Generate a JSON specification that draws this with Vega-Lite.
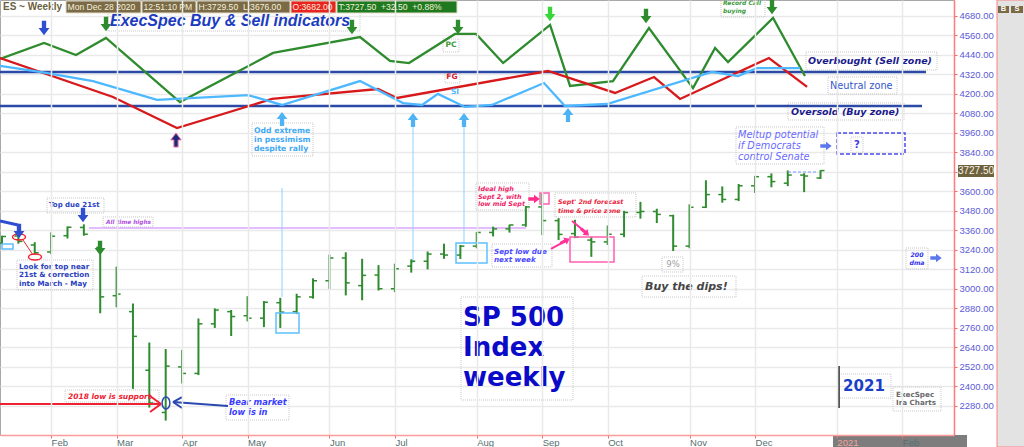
{
  "$schema": "https://vega.github.io/schema/vega-lite/v6.json",
  "width": 954,
  "height": 435,
  "autosize": "none",
  "padding": {"left": 0, "top": 0, "right": 70, "bottom": 12},
  "background": "white",
  "config": {"view": {"stroke": "#a8a8a8", "strokeWidth": 1}, "text": {"font": "DejaVu Sans"}},
  "datasets": {
    "bars": [
      {"wk": 0, "date": "2020-01-17", "open": 3280, "high": 3327, "low": 3275, "close": 3322},
      {"wk": 1, "date": "2020-01-24", "open": 3325, "high": 3337, "low": 3278, "close": 3292},
      {"wk": 2, "date": "2020-01-31", "open": 3270, "high": 3287, "low": 3212, "close": 3222},
      {"wk": 3, "date": "2020-02-07", "open": 3227, "high": 3347, "low": 3214, "close": 3324},
      {"wk": 4, "date": "2020-02-14", "open": 3327, "high": 3384, "low": 3310, "close": 3379},
      {"wk": 5, "date": "2020-02-21", "open": 3378, "high": 3397, "low": 3327, "close": 3336},
      {"wk": 6, "date": "2020-02-28", "open": 3255, "high": 3262, "low": 2850, "close": 2951},
      {"wk": 7, "date": "2020-03-06", "open": 2958, "high": 3137, "low": 2887, "close": 2968},
      {"wk": 8, "date": "2020-03-13", "open": 2860, "high": 2910, "low": 2385, "close": 2708},
      {"wk": 9, "date": "2020-03-20", "open": 2500, "high": 2670, "low": 2270, "close": 2298},
      {"wk": 10, "date": "2020-03-27", "open": 2240, "high": 2630, "low": 2190, "close": 2525},
      {"wk": 11, "date": "2020-04-03", "open": 2520, "high": 2625, "low": 2418, "close": 2480},
      {"wk": 12, "date": "2020-04-09", "open": 2480, "high": 2818, "low": 2470, "close": 2785},
      {"wk": 13, "date": "2020-04-17", "open": 2785, "high": 2880, "low": 2760, "close": 2870},
      {"wk": 14, "date": "2020-04-24", "open": 2860, "high": 2870, "low": 2710, "close": 2830},
      {"wk": 15, "date": "2020-05-01", "open": 2835, "high": 2955, "low": 2800, "close": 2820},
      {"wk": 16, "date": "2020-05-08", "open": 2820, "high": 2925, "low": 2765, "close": 2918},
      {"wk": 17, "date": "2020-05-15", "open": 2915, "high": 2945, "low": 2760, "close": 2857},
      {"wk": 18, "date": "2020-05-22", "open": 2860, "high": 2970, "low": 2845, "close": 2951},
      {"wk": 19, "date": "2020-05-29", "open": 2950, "high": 3065, "low": 2940, "close": 3050},
      {"wk": 20, "date": "2020-06-05", "open": 3050, "high": 3211, "low": 3000, "close": 3190},
      {"wk": 21, "date": "2020-06-12", "open": 3190, "high": 3225, "low": 2960, "close": 3037},
      {"wk": 22, "date": "2020-06-19", "open": 3020, "high": 3185, "low": 2930, "close": 3083},
      {"wk": 23, "date": "2020-06-26", "open": 3085, "high": 3146, "low": 2990, "close": 3001},
      {"wk": 24, "date": "2020-07-02", "open": 3001, "high": 3155, "low": 2980, "close": 3124},
      {"wk": 25, "date": "2020-07-10", "open": 3140, "high": 3182, "low": 3100, "close": 3170},
      {"wk": 26, "date": "2020-07-17", "open": 3170, "high": 3230, "low": 3120, "close": 3214},
      {"wk": 27, "date": "2020-07-24", "open": 3214, "high": 3278, "low": 3185, "close": 3208},
      {"wk": 28, "date": "2020-07-31", "open": 3208, "high": 3270, "low": 3184, "close": 3263},
      {"wk": 29, "date": "2020-08-07", "open": 3263, "high": 3350, "low": 3250, "close": 3347},
      {"wk": 30, "date": "2020-08-14", "open": 3347, "high": 3383, "low": 3323, "close": 3369},
      {"wk": 31, "date": "2020-08-21", "open": 3369, "high": 3395, "low": 3346, "close": 3393},
      {"wk": 32, "date": "2020-08-28", "open": 3393, "high": 3509, "low": 3382, "close": 3504},
      {"wk": 33, "date": "2020-09-04", "open": 3504, "high": 3588, "low": 3331, "close": 3420},
      {"wk": 34, "date": "2020-09-11", "open": 3420, "high": 3435, "low": 3300, "close": 3335},
      {"wk": 35, "date": "2020-09-18", "open": 3340, "high": 3425, "low": 3312, "close": 3318},
      {"wk": 36, "date": "2020-09-25", "open": 3300, "high": 3320, "low": 3197, "close": 3289},
      {"wk": 37, "date": "2020-10-02", "open": 3289, "high": 3390, "low": 3270, "close": 3336},
      {"wk": 38, "date": "2020-10-09", "open": 3336, "high": 3480, "low": 3318, "close": 3470},
      {"wk": 39, "date": "2020-10-16", "open": 3470, "high": 3535, "low": 3432, "close": 3476},
      {"wk": 40, "date": "2020-10-23", "open": 3476, "high": 3493, "low": 3405, "close": 3458},
      {"wk": 41, "date": "2020-10-30", "open": 3450, "high": 3456, "low": 3233, "close": 3263},
      {"wk": 42, "date": "2020-11-06", "open": 3263, "high": 3520, "low": 3250, "close": 3502},
      {"wk": 43, "date": "2020-11-13", "open": 3502, "high": 3668, "low": 3497, "close": 3580},
      {"wk": 44, "date": "2020-11-20", "open": 3580, "high": 3630, "low": 3530, "close": 3550},
      {"wk": 45, "date": "2020-11-27", "open": 3550, "high": 3645, "low": 3540, "close": 3634},
      {"wk": 46, "date": "2020-12-04", "open": 3634, "high": 3695, "low": 3590, "close": 3690},
      {"wk": 47, "date": "2020-12-11", "open": 3690, "high": 3710, "low": 3625, "close": 3660},
      {"wk": 48, "date": "2020-12-18", "open": 3650, "high": 3728, "low": 3632, "close": 3700},
      {"wk": 49, "date": "2020-12-24", "open": 3700, "high": 3711, "low": 3595, "close": 3694},
      {"wk": 50, "date": "2020-12-31", "open": 3682, "high": 3729.5, "low": 3676, "close": 3727.5}
    ],
    "ind": [
      {"ind": "PC", "wk": -0.12, "price": 4414}, {"ind": "PC", "wk": 2.57, "price": 4512}, {"ind": "PC", "wk": 4.52, "price": 4438},
      {"ind": "PC", "wk": 6.35, "price": 4543}, {"ind": "PC", "wk": 10.87, "price": 4149}, {"ind": "PC", "wk": 16.56, "price": 4451},
      {"ind": "PC", "wk": 21.87, "price": 4549}, {"ind": "PC", "wk": 23.7, "price": 4402}, {"ind": "PC", "wk": 24.86, "price": 4389},
      {"ind": "PC", "wk": 27.67, "price": 4568}, {"ind": "PC", "wk": 28.96, "price": 4568}, {"ind": "PC", "wk": 30.61, "price": 4389},
      {"ind": "PC", "wk": 33.48, "price": 4623}, {"ind": "PC", "wk": 34.7, "price": 4248}, {"ind": "PC", "wk": 37.32, "price": 4278},
      {"ind": "PC", "wk": 39.52, "price": 4604}, {"ind": "PC", "wk": 42.21, "price": 4235}, {"ind": "PC", "wk": 43.56, "price": 4481},
      {"ind": "PC", "wk": 44.35, "price": 4395}, {"ind": "PC", "wk": 47.1, "price": 4666}, {"ind": "PC", "wk": 49.05, "price": 4309},
      {"ind": "FG", "wk": -0.12, "price": 4420}, {"ind": "FG", "wk": 6.78, "price": 4180}, {"ind": "FG", "wk": 10.69, "price": 3989},
      {"ind": "FG", "wk": 16.49, "price": 4168}, {"ind": "FG", "wk": 22.97, "price": 4229}, {"ind": "FG", "wk": 24.13, "price": 4174},
      {"ind": "FG", "wk": 33.35, "price": 4340}, {"ind": "FG", "wk": 37.45, "price": 4205}, {"ind": "FG", "wk": 39.83, "price": 4303},
      {"ind": "FG", "wk": 41.42, "price": 4168}, {"ind": "FG", "wk": 46.85, "price": 4420}, {"ind": "FG", "wk": 49.18, "price": 4242},
      {"ind": "SI", "wk": -0.12, "price": 4371}, {"ind": "SI", "wk": 2.32, "price": 4334}, {"ind": "SI", "wk": 5.56, "price": 4278},
      {"ind": "SI", "wk": 9.47, "price": 4162}, {"ind": "SI", "wk": 15.03, "price": 4192}, {"ind": "SI", "wk": 17.1, "price": 4131},
      {"ind": "SI", "wk": 21.87, "price": 4278}, {"ind": "SI", "wk": 24.5, "price": 4143}, {"ind": "SI", "wk": 25.66, "price": 4131},
      {"ind": "SI", "wk": 26.63, "price": 4199}, {"ind": "SI", "wk": 28.28, "price": 4119}, {"ind": "SI", "wk": 29.93, "price": 4131},
      {"ind": "SI", "wk": 33.11, "price": 4266}, {"ind": "SI", "wk": 34.39, "price": 4125}, {"ind": "SI", "wk": 36.96, "price": 4137},
      {"ind": "SI", "wk": 43.37, "price": 4334}, {"ind": "SI", "wk": 44.96, "price": 4309}, {"ind": "SI", "wk": 46.12, "price": 4358},
      {"ind": "SI", "wk": 48.75, "price": 4358}
    ],
    "hdr": [
      {"seg": "date", "wk": 3.91, "wk2": 8.491, "price": 4770.5, "price2": 4696.7, "t": "Mon Dec 28 2020"},
      {"seg": "time", "wk": 8.552, "wk2": 11.851, "price": 4770.5, "price2": 4696.7, "t": "12:51:10 PM"},
      {"seg": "hl", "wk": 11.912, "wk2": 17.593, "price": 4770.5, "price2": 4696.7, "t": "H:3729.50\u00a0\u00a0L:3676.00"},
      {"seg": "open", "wk": 17.654, "wk2": 20.403, "price": 4770.5, "price2": 4696.7, "t": "O:3682.00"},
      {"seg": "last", "wk": 20.464, "wk2": 27.795, "price": 4770.5, "price2": 4696.7, "t": "T:3727.50\u00a0\u00a0+32.50\u00a0\u00a0+0.88%"}
    ],
    "noteBoxes": [
      {"wk": 6.475, "wk2": 21.869, "price": 4708.9, "price2": 4586.0},
      {"wk": 26.939, "wk2": 27.917, "price": 4536.8, "price2": 4456.8},
      {"wk": 27.062, "wk2": 27.978, "price": 4333.8, "price2": 4266.2},
      {"wk": 15.272, "wk2": 18.998, "price": 4020.1, "price2": 3817.2},
      {"wk": 2.749, "wk2": 6.231, "price": 3558.9, "price2": 3466.7},
      {"wk": 6.17, "wk2": 9.224, "price": 3442.1, "price2": 3380.6},
      {"wk": 0.916, "wk2": 5.559, "price": 3177.6, "price2": 2993.1},
      {"wk": 3.848, "wk2": 9.591, "price": 2378.1, "price2": 2304.3},
      {"wk": 13.683, "wk2": 17.532, "price": 2347.4, "price2": 2193.6},
      {"wk": 29.933, "wk2": 33.598, "price": 3276.0, "price2": 3134.6},
      {"wk": 28.955, "wk2": 32.193, "price": 3651.2, "price2": 3485.1},
      {"wk": 33.781, "wk2": 38.729, "price": 3589.6, "price2": 3442.1},
      {"wk": 40.317, "wk2": 41.6, "price": 3196.0, "price2": 3103.8},
      {"wk": 39.096, "wk2": 44.838, "price": 3079.2, "price2": 2950.0},
      {"wk": 28.039, "wk2": 34.881, "price": 2950.0, "price2": 2316.6},
      {"wk": 51.13, "wk2": 54.306, "price": 2476.5, "price2": 2328.9},
      {"wk": 54.428, "wk2": 57.361, "price": 2396.6, "price2": 2249.0},
      {"wk": 55.223, "wk2": 56.566, "price": 3251.4, "price2": 3122.3},
      {"wk": 49.114, "wk2": 57.116, "price": 4456.8, "price2": 4346.1},
      {"wk": 50.458, "wk2": 54.673, "price": 4303.1, "price2": 4198.5},
      {"wk": 48.014, "wk2": 55.101, "price": 4143.2, "price2": 4038.6},
      {"wk": 44.838, "wk2": 50.213, "price": 3995.6, "price2": 3768.0},
      {"wk": 51.863, "wk2": 52.596, "price": 3934.1, "price2": 3835.6},
      {"wk": 43.922, "wk2": 46.609, "price": 4776.6, "price2": 4672.1}
    ]
  },
  "encoding": {
    "x": {
      "field": "wk", "type": "quantitative",
      "scale": {"domain": [-0.122, 58.155], "nice": false, "zero": false},
      "axis": {
        "title": null,
        "values": [3, 7, 11, 15, 20, 24, 29, 33, 37, 42, 46, 51, 55],
        "labelExpr": "{'3':'Feb','7':'Mar','11':'Apr','15':'May','20':'Jun','24':'Jul','29':'Aug','33':'Sep','37':'Oct','42':'Nov','46':'Dec','51':'2021','55':'Feb'}[datum.value]",
        "labelAlign": "left", "labelPadding": -1, "labelFont": "Liberation Sans", "labelFontSize": 9.5,
        "labelColor": {"condition": {"test": "datum.value == 51", "value": "#f4a49a"}, "value": "#557070"},
        "labelFlush": false, "labelOverlap": false,
        "tickColor": "#ff6666", "tickSize": 3,
        "domainColor": "#ff9a9a", "domainWidth": 1.5,
        "gridColor": "#e9e9e9", "gridWidth": 1.5,
        "zindex": 1
      }
    },
    "y": {
      "field": "price", "type": "quantitative",
      "scale": {"domain": [2101.4, 4776.6], "nice": false, "zero": false},
      "axis": {
        "title": null, "orient": "right",
        "values": [2280, 2400, 2520, 2640, 2760, 2880, 3000, 3120, 3240, 3360, 3480, 3600, 3720, 3840, 3960, 4080, 4200, 4320, 4440, 4560, 4680],
        "format": ".2f", "labelFont": "Liberation Sans", "labelFontSize": 9.5, "labelColor": "#5b5bd6",
        "labelPadding": 2, "labelFlush": false,
        "tickColor": "#ff6666", "tickSize": 3,
        "domainColor": "#ff7a7a", "domainWidth": 1.5,
        "gridColor": "#e9e9e9", "gridWidth": 1.5
      }
    }
  },
  "layer": [
    {
      "data": {"name": "noteBoxes"},
      "mark": {"type": "rect", "fillOpacity": 0, "stroke": "#c8c8c8", "strokeWidth": 1, "strokeDash": [1, 1]},
      "encoding": {"x2": {"field": "wk2"}, "y2": {"field": "price2"}}
    },
    {
      "data": {"values": [
        {"wk": -0.122, "wk2": 56.444, "price": 4333.8},
        {"wk": -0.122, "wk2": 56.2, "price": 4124.7}
      ]},
      "mark": {"type": "rule", "color": "#2b4aa8", "strokeWidth": 2.5},
      "encoding": {"x2": {"field": "wk2"}}
    },
    {
      "data": {"name": "ind"},
      "mark": {"type": "line", "strokeWidth": 2.3},
      "encoding": {
        "color": {"field": "ind", "type": "nominal", "scale": {"domain": ["PC", "FG", "SI"], "range": ["#2e8b2e", "#d7191c", "#4db8ff"]}, "legend": null}
      }
    },
    {
      "data": {"values": [{"wk": 5.315, "wk2": 32.01, "price": 3374.4}]},
      "mark": {"type": "rule", "color": "#c77dff", "strokeWidth": 1},
      "encoding": {"x2": {"field": "wk2"}}
    },
    {
      "data": {"values": [
        {"wk": 17.104, "price": 3620.4, "price2": 2950.0},
        {"wk": 25.107, "price": 3995.6, "price2": 3159.2},
        {"wk": 28.222, "price": 4001.7, "price2": 3282.2}
      ]},
      "mark": {"type": "rule", "color": "#8fd0ff", "strokeWidth": 1},
      "encoding": {"y2": {"field": "price2"}}
    },
    {
      "data": {"name": "bars"},
      "mark": {"type": "rule", "color": "#2e8b2e", "strokeWidth": 2},
      "encoding": {"y": {"field": "low", "type": "quantitative", "title": null}, "y2": {"field": "high"}}
    },
    {
      "data": {"name": "bars"},
      "mark": {"type": "tick", "orient": "horizontal", "color": "#2e8b2e", "size": 4, "thickness": 1.5, "xOffset": -2, "opacity": 1},
      "encoding": {"y": {"field": "open", "type": "quantitative", "title": null}}
    },
    {
      "data": {"name": "bars"},
      "mark": {"type": "tick", "orient": "horizontal", "color": "#2e8b2e", "size": 4, "thickness": 1.5, "xOffset": 2, "opacity": 1},
      "encoding": {"y": {"field": "close", "type": "quantitative", "title": null}}
    },
    {
      "data": {"values": [
        {"wk": -0.122, "price": 2292.0, "wk2": 9.652, "price2": 2292.0},
        {"wk": 9.041, "price": 2341.2, "wk2": 9.713, "price2": 2292.0},
        {"wk": 9.041, "price": 2242.8, "wk2": 9.713, "price2": 2292.0}
      ]},
      "mark": {"type": "rule", "color": "#ee2233", "strokeWidth": 2},
      "encoding": {"x2": {"field": "wk2"}, "y2": {"field": "price2"}}
    },
    {
      "data": {"values": [{"wk": 1.283, "price": 3300.6, "wk2": 1.894, "price2": 3208.4}]},
      "mark": {"type": "rule", "color": "#ee2233", "strokeWidth": 1},
      "encoding": {"x2": {"field": "wk2"}, "y2": {"field": "price2"}}
    },
    {
      "data": {"values": [
        {"wk": 13.806, "price": 2279.7, "wk2": 10.446, "price2": 2304.3},
        {"wk": 10.996, "price": 2335.0, "wk2": 10.446, "price2": 2304.3},
        {"wk": 10.996, "price": 2267.4, "wk2": 10.446, "price2": 2304.3}
      ]},
      "mark": {"type": "rule", "color": "#2a48b0", "strokeWidth": 2},
      "encoding": {"x2": {"field": "wk2"}, "y2": {"field": "price2"}}
    },
    {
      "data": {"values": [{"wk": -0.122, "price": 3417.5, "wk2": 0.977, "price2": 3392.9}]},
      "mark": {"type": "rule", "color": "#2f4fd0", "strokeWidth": 3},
      "encoding": {"x2": {"field": "wk2"}, "y2": {"field": "price2"}}
    },
    {
      "data": {"values": [
        {"wk": 34.82, "price": 3417.5, "wk2": 35.492, "price2": 3362.1},
        {"wk": 33.537, "price": 3245.3, "wk2": 34.209, "price2": 3282.2}
      ]},
      "mark": {"type": "rule", "color": "#ff3399", "strokeWidth": 2},
      "encoding": {"x2": {"field": "wk2"}, "y2": {"field": "price2"}}
    },
    {
      "data": {"values": [{"wk": 48.014, "wk2": 49.786, "price": 3718.8}]},
      "mark": {"type": "rule", "color": "#7799ff", "strokeWidth": 1, "strokeDash": [3, 2]},
      "encoding": {"x2": {"field": "wk2"}}
    },
    {
      "data": {"values": [{"wk": 51.13, "price": 2525.7, "price2": 2267.4}]},
      "mark": {"type": "rule", "color": "#555555", "strokeWidth": 2},
      "encoding": {"y2": {"field": "price2"}}
    },
    {
      "data": {"values": [
        {"wk": 16.738, "wk2": 18.143, "price": 2851.6, "price2": 2728.7},
        {"wk": 27.734, "wk2": 29.627, "price": 3282.2, "price2": 3159.2},
        {"wk": 0.0, "wk2": 0.672, "price": 3276.0, "price2": 3245.3}
      ]},
      "mark": {"type": "rect", "fillOpacity": 0, "stroke": "#5cc0ff", "strokeWidth": 1.5},
      "encoding": {"x2": {"field": "wk2"}, "y2": {"field": "price2"}}
    },
    {
      "data": {"values": [
        {"wk": 32.865, "wk2": 33.415, "price": 3589.6, "price2": 3522.0},
        {"wk": 34.697, "wk2": 37.385, "price": 3319.1, "price2": 3165.3}
      ]},
      "mark": {"type": "rect", "fillOpacity": 0, "stroke": "#ff5fae", "strokeWidth": 1.5},
      "encoding": {"x2": {"field": "wk2"}, "y2": {"field": "price2"}}
    },
    {
      "data": {"values": [{"wk": 51.008, "wk2": 55.162, "price": 3958.6, "price2": 3829.5}]},
      "mark": {"type": "rect", "fillOpacity": 0, "stroke": "#4a4aee", "strokeWidth": 1.5, "strokeDash": [4, 2]},
      "encoding": {"x2": {"field": "wk2"}, "y2": {"field": "price2"}}
    },
    {
      "data": {"values": [{"wk": 1.038, "price": 3319.1}, {"wk": 2.016, "price": 3196.0}]},
      "mark": {"type": "point", "shape": "M-1,0A1,0.45,0,1,1,1,0A1,0.45,0,1,1,-1,0Z", "size": 169, "filled": false, "color": "#ee2233", "strokeWidth": 1.5, "opacity": 1}
    },
    {
      "data": {"values": [{"wk": 10.018, "price": 2298.1}]},
      "mark": {"type": "point", "shape": "M0,-1A0.65,1,0,1,1,0,1A0.65,1,0,1,1,0,-1Z", "size": 144, "filled": false, "color": "#2a48b0", "strokeWidth": 1.5, "opacity": 1}
    },
    {
      "data": {"values": [
        {"wk": 6.353, "price": 4629.0}, {"wk": 21.38, "price": 4610.6}, {"wk": 27.856, "price": 4610.6},
        {"wk": 5.987, "price": 3251.4}, {"wk": 39.34, "price": 4678.2}, {"wk": 47.037, "price": 4733.5}
      ]},
      "mark": {"type": "point", "shape": "M-0.3,-1L0.3,-1L0.3,0L0.75,0L0,1L-0.75,0L-0.3,0Z", "size": 210, "filled": true, "color": "#2e8b2e", "opacity": 1}
    },
    {
      "data": {"values": [{"wk": 2.566, "price": 4604.4}, {"wk": 4.948, "price": 3454.4}, {"wk": 1.038, "price": 3355.9}]},
      "mark": {"type": "point", "shape": "M-0.3,-1L0.3,-1L0.3,0L0.75,0L0,1L-0.75,0L-0.3,0Z", "size": 210, "filled": true, "color": "#2f4fd0", "opacity": 1}
    },
    {
      "data": {"values": [{"wk": 33.476, "price": 4690.5}]},
      "mark": {"type": "point", "shape": "M-0.3,-1L0.3,-1L0.3,0L0.75,0L0,1L-0.75,0L-0.3,0Z", "size": 210, "filled": true, "color": "#39d639", "opacity": 1}
    },
    {
      "data": {"values": [{"wk": 10.629, "price": 3915.6}]},
      "mark": {"type": "point", "shape": "M-0.3,-1L0.3,-1L0.3,0L0.75,0L0,1L-0.75,0L-0.3,0Z", "size": 200, "angle": 180, "filled": true, "color": "#1a2a7a", "stroke": "#ff77aa", "strokeWidth": 1, "opacity": 1}
    },
    {
      "data": {"values": [{"wk": 17.104, "price": 4044.8}, {"wk": 25.107, "price": 4038.6}, {"wk": 28.222, "price": 4038.6}, {"wk": 34.575, "price": 4069.4}]},
      "mark": {"type": "point", "shape": "M-0.3,-1L0.3,-1L0.3,0L0.75,0L0,1L-0.75,0L-0.3,0Z", "size": 200, "angle": 180, "filled": true, "color": "#4db3f5", "opacity": 1}
    },
    {
      "data": {"values": [{"wk": 32.498, "price": 3552.8}]},
      "mark": {"type": "point", "shape": "M-0.3,-1L0.3,-1L0.3,0L0.75,0L0,1L-0.75,0L-0.3,0Z", "size": 130, "angle": 270, "filled": true, "color": "#ff2e8a", "opacity": 1}
    },
    {
      "data": {"values": [{"wk": 50.335, "price": 3878.7}, {"wk": 57.055, "price": 3189.9}]},
      "mark": {"type": "point", "shape": "M-0.3,-1L0.3,-1L0.3,0L0.75,0L0,1L-0.75,0L-0.3,0Z", "size": 130, "angle": 270, "filled": true, "color": "#5b78ee", "opacity": 1}
    },
    {
      "data": {"values": [{"wk": 35.614, "price": 3349.8, "dir": 310}, {"wk": 34.392, "price": 3294.4, "dir": 243}]},
      "mark": {"type": "point", "shape": "M-0.3,-1L0.3,-1L0.3,0L0.75,0L0,1L-0.75,0L-0.3,0Z", "size": 110, "filled": true, "color": "#ff3399", "opacity": 1},
      "encoding": {"angle": {"field": "dir", "type": "quantitative", "scale": null}}
    },
    {
      "data": {"name": "hdr"},
      "mark": {"type": "rect", "stroke": "#e2dcc8", "strokeWidth": 1},
      "encoding": {
        "x2": {"field": "wk2"}, "y2": {"field": "price2"},
        "fill": {"field": "seg", "type": "nominal", "scale": {"domain": ["date", "time", "hl", "open", "last"], "range": ["#7a6a45", "#7a6a45", "#7a6a45", "#e9231f", "#1f7a1f"]}, "legend": null}
      }
    },
    {
      "data": {"name": "hdr"},
      "transform": [{"calculate": "(datum.price + datum.price2) / 2", "as": "mid"}],
      "mark": {"type": "text", "align": "left", "baseline": "middle", "dx": 1.5, "font": "Liberation Sans", "fontSize": 8.6, "color": "#f6f0dc"},
      "encoding": {"y": {"field": "mid", "type": "quantitative", "title": null}, "text": {"field": "t"}}
    },
    {
      "data": {"values": [{"wk": 0.061, "price": 4733.5, "t": "ES ~ Weekly"}]},
      "mark": {"type": "text", "align": "left", "baseline": "middle", "font": "Liberation Sans", "fontSize": 10, "fontWeight": "bold", "color": "#6b5f3e"},
      "encoding": {"text": {"field": "t"}}
    },
    {
      "data": {"values": [{"wk": 6.597, "price": 4647.4, "t": "ExecSpec Buy & Sell indicators"}]},
      "mark": {"type": "text", "align": "left", "baseline": "middle", "font": "Liberation Sans", "fontSize": 16, "fontWeight": "bold", "fontStyle": "italic", "color": "#1c3cc0"},
      "encoding": {"text": {"field": "t"}}
    },
    {
      "data": {"values": [{"wk": 27.428, "price": 4499.9, "t": "PC"}]},
      "mark": {"type": "text", "align": "center", "baseline": "middle", "fontSize": 7.5, "fontWeight": "bold", "color": "#3a9a3a"},
      "encoding": {"text": {"field": "t"}}
    },
    {
      "data": {"values": [{"wk": 27.489, "price": 4303.1, "t": "FG"}]},
      "mark": {"type": "text", "align": "center", "baseline": "middle", "fontSize": 7.5, "fontWeight": "bold", "color": "#d42030"},
      "encoding": {"text": {"field": "t"}}
    },
    {
      "data": {"values": [{"wk": 27.672, "price": 4210.8, "t": "SI"}]},
      "mark": {"type": "text", "align": "center", "baseline": "middle", "fontSize": 7.5, "fontWeight": "bold", "color": "#4db8ff"},
      "encoding": {"text": {"field": "t"}}
    },
    {
      "data": {"values": [{"wk": 15.394, "price": 3971.0, "t": "Odd extreme\nin pessimism\ndespite rally"}]},
      "mark": {"type": "text", "align": "left", "baseline": "middle", "fontSize": 7.7, "fontWeight": "bold", "color": "#3fa9f5", "lineBreak": "\n", "lineHeight": 9.2},
      "encoding": {"text": {"field": "t"}}
    },
    {
      "data": {"values": [{"wk": 2.871, "price": 3515.9, "t": "Top due 21st"}]},
      "mark": {"type": "text", "align": "left", "baseline": "middle", "fontSize": 7, "fontWeight": "bold", "color": "#2a3fc0"},
      "encoding": {"text": {"field": "t"}}
    },
    {
      "data": {"values": [{"wk": 6.353, "price": 3411.3, "t": "All time highs"}]},
      "mark": {"type": "text", "align": "left", "baseline": "middle", "fontSize": 5.8, "fontWeight": "bold", "fontStyle": "italic", "color": "#b04de0"},
      "encoding": {"text": {"field": "t"}}
    },
    {
      "data": {"values": [{"wk": 1.038, "price": 3134.6, "t": "Look for top near\n21st & correction\ninto March - May"}]},
      "mark": {"type": "text", "align": "left", "baseline": "middle", "fontSize": 7.2, "fontWeight": "bold", "color": "#2a3fc0", "lineBreak": "\n", "lineHeight": 8.3},
      "encoding": {"text": {"field": "t"}}
    },
    {
      "data": {"values": [{"wk": 4.032, "price": 2335.0, "t": "2018 low is support"}]},
      "mark": {"type": "text", "align": "left", "baseline": "middle", "fontSize": 7.5, "fontWeight": "bold", "fontStyle": "italic", "color": "#ee2233"},
      "encoding": {"text": {"field": "t"}}
    },
    {
      "data": {"values": [{"wk": 13.867, "price": 2298.1, "t": "Bear market\nlow is in"}]},
      "mark": {"type": "text", "align": "left", "baseline": "middle", "fontSize": 8.3, "fontWeight": "bold", "fontStyle": "italic", "color": "#3b3bff", "lineBreak": "\n", "lineHeight": 10},
      "encoding": {"text": {"field": "t"}}
    },
    {
      "data": {"values": [{"wk": 30.055, "price": 3226.8, "t": "Sept low due\nnext week"}]},
      "mark": {"type": "text", "align": "left", "baseline": "middle", "fontSize": 7.2, "fontWeight": "bold", "fontStyle": "italic", "color": "#4b4bff", "lineBreak": "\n", "lineHeight": 8},
      "encoding": {"text": {"field": "t"}}
    },
    {
      "data": {"values": [{"wk": 29.078, "price": 3614.2, "t": "Ideal high\nSept 2, with\nlow mid Sept"}]},
      "mark": {"type": "text", "align": "left", "baseline": "middle", "fontSize": 6.4, "fontWeight": "bold", "fontStyle": "italic", "color": "#ee2266", "lineBreak": "\n", "lineHeight": 7.7},
      "encoding": {"text": {"field": "t"}}
    },
    {
      "data": {"values": [{"wk": 33.964, "price": 3534.3, "t": "Sept' 2nd forecast\ntime & price zone"}]},
      "mark": {"type": "text", "align": "left", "baseline": "middle", "fontSize": 6.3, "fontWeight": "bold", "fontStyle": "italic", "color": "#e8243c", "lineBreak": "\n", "lineHeight": 8.5},
      "encoding": {"text": {"field": "t"}}
    },
    {
      "data": {"values": [{"wk": 40.989, "price": 3153.0, "t": "9%"}]},
      "mark": {"type": "text", "align": "center", "baseline": "middle", "fontSize": 8.5, "color": "#a0a0a0"},
      "encoding": {"text": {"field": "t"}}
    },
    {
      "data": {"values": [{"wk": 39.279, "price": 3011.5, "t": "Buy the dips!"}]},
      "mark": {"type": "text", "align": "left", "baseline": "middle", "fontSize": 11, "fontWeight": "bold", "fontStyle": "italic", "color": "#454545"},
      "encoding": {"text": {"field": "t"}}
    },
    {
      "data": {"values": [{"wk": 28.161, "price": 2824.0, "t": "SP 500\nIndex\nweekly"}]},
      "mark": {"type": "text", "align": "left", "baseline": "middle", "fontSize": 26, "fontWeight": "bold", "color": "#0a0ac8", "lineBreak": "\n", "lineHeight": 30},
      "encoding": {"text": {"field": "t"}}
    },
    {
      "data": {"values": [{"wk": 52.657, "price": 2402.7, "t": "2021"}]},
      "mark": {"type": "text", "align": "center", "baseline": "middle", "fontSize": 15, "fontWeight": "bold", "color": "#1a3fc8"},
      "encoding": {"text": {"field": "t"}}
    },
    {
      "data": {"values": [{"wk": 54.612, "price": 2347.4, "t": "ExecSpec\nIra Charts"}]},
      "mark": {"type": "text", "align": "left", "baseline": "middle", "fontSize": 7.2, "fontWeight": "bold", "color": "#6a6a6a", "lineBreak": "\n", "lineHeight": 8},
      "encoding": {"text": {"field": "t"}}
    },
    {
      "data": {"values": [{"wk": 55.895, "price": 3208.4, "t": "200\ndma"}]},
      "mark": {"type": "text", "align": "center", "baseline": "middle", "fontSize": 6.2, "fontWeight": "bold", "fontStyle": "italic", "color": "#3030ee", "lineBreak": "\n", "lineHeight": 8},
      "encoding": {"text": {"field": "t"}}
    },
    {
      "data": {"values": [{"wk": 49.236, "price": 4401.5, "t": "Overbought (Sell zone)"}]},
      "mark": {"type": "text", "align": "left", "baseline": "middle", "fontSize": 9.5, "fontWeight": "bold", "fontStyle": "italic", "color": "#1a1a8c"},
      "encoding": {"text": {"field": "t"}}
    },
    {
      "data": {"values": [{"wk": 50.58, "price": 4247.7, "t": "Neutral zone"}]},
      "mark": {"type": "text", "align": "left", "baseline": "middle", "fontSize": 9.8, "color": "#3355cc"},
      "encoding": {"text": {"field": "t"}}
    },
    {
      "data": {"values": [{"wk": 48.198, "price": 4087.8, "t": "Oversold (Buy zone)"}]},
      "mark": {"type": "text", "align": "left", "baseline": "middle", "fontSize": 9.5, "fontWeight": "bold", "fontStyle": "italic", "color": "#1a1a8c"},
      "encoding": {"text": {"field": "t"}}
    },
    {
      "data": {"values": [{"wk": 44.96, "price": 3946.4, "t": "Meltup potential\nif Democrats\ncontrol Senate"}]},
      "mark": {"type": "text", "align": "left", "baseline": "middle", "fontSize": 9.8, "fontStyle": "italic", "color": "#6a6aff", "lineBreak": "\n", "lineHeight": 11},
      "encoding": {"text": {"field": "t"}}
    },
    {
      "data": {"values": [{"wk": 52.229, "price": 3884.9, "t": "?"}]},
      "mark": {"type": "text", "align": "center", "baseline": "middle", "fontSize": 10, "fontWeight": "bold", "color": "#3b3bdd"},
      "encoding": {"text": {"field": "t"}}
    },
    {
      "data": {"values": [{"wk": 44.044, "price": 4758.2, "t": "Record Call\nbuying"}]},
      "mark": {"type": "text", "align": "left", "baseline": "middle", "fontSize": 6, "fontWeight": "bold", "fontStyle": "italic", "color": "#3a9a3a", "lineBreak": "\n", "lineHeight": 8},
      "encoding": {"text": {"field": "t"}}
    },
    {
      "data": {"values": [{"wk": 50.763, "wk2": 58.949, "price": 2101.4, "price2": 2027.5}]},
      "mark": {"type": "rect", "color": "#7d7d7d"},
      "encoding": {"x2": {"field": "wk2"}, "y2": {"field": "price2"}}
    },
    {
      "data": {"values": [{"wk": 60.782, "wk2": 62.6, "price": 4776.6, "price2": 2027.5}]},
      "mark": {"type": "rect", "color": "#e3e3e3", "stroke": "#ff8080", "strokeWidth": 1},
      "encoding": {"x2": {"field": "wk2"}, "y2": {"field": "price2"}}
    },
    {
      "data": {"values": [
        {"key": "B", "wk": 60.843, "wk2": 61.515, "price": 4739.7, "price2": 4696.7},
        {"key": "S", "wk": 61.637, "wk2": 62.37, "price": 4739.7, "price2": 4696.7}
      ]},
      "mark": {"type": "rect"},
      "encoding": {
        "x2": {"field": "wk2"}, "y2": {"field": "price2"},
        "fill": {"field": "key", "type": "nominal", "scale": {"domain": ["B", "S"], "range": ["#7b7bff", "#ff7b7b"]}, "legend": null}
      }
    },
    {
      "data": {"values": [{"wk": 61.18, "price": 4718.2, "t": "B"}, {"wk": 62.0, "price": 4718.2, "t": "S"}]},
      "mark": {"type": "text", "align": "center", "baseline": "middle", "font": "Liberation Sans", "fontSize": 7.5, "fontWeight": "bold", "color": "white"},
      "encoding": {"text": {"field": "t"}}
    },
    {
      "data": {"values": [{"wk": 58.399, "wk2": 60.598, "price": 3761.8, "price2": 3688.0}]},
      "mark": {"type": "rect", "color": "#6e623e"},
      "encoding": {"x2": {"field": "wk2"}, "y2": {"field": "price2"}}
    },
    {
      "data": {"values": [{"wk": 59.499, "price": 3725.0, "t": "3727.50"}]},
      "mark": {"type": "text", "align": "center", "baseline": "middle", "font": "Liberation Sans", "fontSize": 10, "color": "#f8f4e8"},
      "encoding": {"text": {"field": "t"}}
    }
  ]
}
